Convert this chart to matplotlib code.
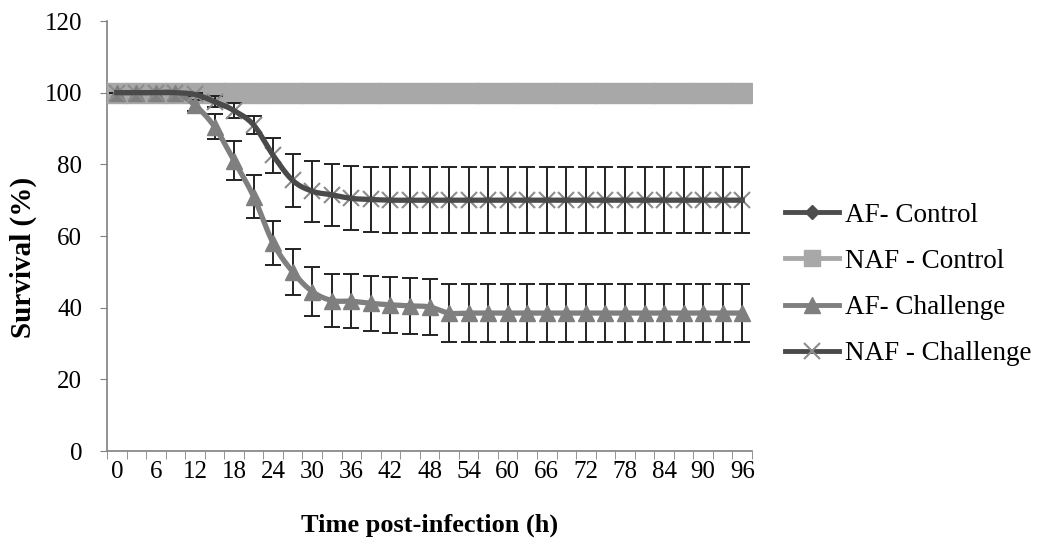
import numpy as np
import matplotlib
matplotlib.use('Agg')
import matplotlib.pyplot as plt

# time points (h), every 3 h
hours = list(range(0, 97, 3))
tick_hours = list(range(0, 97, 6))

# survival (%)
af_control = [100] * 33
naf_control = [100] * 33
af_challenge = [100, 100, 100, 100, 96.5, 90.5, 81, 71, 58, 50, 44.5, 42,
                41.8, 41.2, 40.8, 40.5, 40.2] + [38.5] * 16
af_challenge_err = [0, 0, 0, 0, 1.5, 3.5, 5.5, 6, 6.2, 6.5, 6.8, 7.3,
                    7.6, 7.7, 7.8, 7.9, 7.9] + [8] * 16
naf_challenge = [100, 100, 100, 100, 99.5, 97.5, 95, 91, 82.5, 75.5, 72.5,
                 71.5, 70.5, 70.2] + [70] * 19
naf_challenge_err = [0, 0, 0, 0, 0.5, 1.5, 2, 2.6, 4.8, 7.3, 8.5, 8.7,
                     8.9, 9.1] + [9.2] * 19

plt.rcParams['font.family'] = ['Liberation Serif', 'DejaVu Serif']


def smooth(x, y, n=12):
    # Bezier smoothing like Excel's "smoothed line"
    x = np.asarray(x, float)
    y = np.asarray(y, float)
    px = np.concatenate([[x[0]], x, [x[-1]]])
    py = np.concatenate([[y[0]], y, [y[-1]]])
    xs, ys = [], []
    for i in range(1, len(px) - 2):
        p0, p1, p2, p3 = py[i - 1], py[i], py[i + 1], py[i + 2]
        q0, q1, q2, q3 = px[i - 1], px[i], px[i + 1], px[i + 2]
        c1y, c2y = p1 + (p2 - p0) / 6, p2 - (p3 - p1) / 6
        c1x, c2x = q1 + (q2 - q0) / 6, q2 - (q3 - q1) / 6
        t = np.linspace(0, 1, n, endpoint=False)
        b = [(1 - t) ** 3, 3 * (1 - t) ** 2 * t, 3 * (1 - t) * t ** 2, t ** 3]
        xs.append(b[0] * q1 + b[1] * c1x + b[2] * c2x + b[3] * q2)
        ys.append(b[0] * p1 + b[1] * c1y + b[2] * c2y + b[3] * p2)
    xs.append([x[-1]])
    ys.append([y[-1]])
    return np.concatenate(xs), np.concatenate(ys)


fig = plt.figure(figsize=(10.41, 5.43), dpi=100)
ax = fig.add_axes([0.1028, 0.1694, 0.6196, 0.7919])

c_afc = '#4d4d4d'
c_nafc = '#a8a8a8'
c_afch = '#7f7f7f'
c_nafch = '#4a4a4a'

# AF - Control
sx, sy = smooth(hours, af_control)
ax.plot(sx, sy, color=c_afc, lw=3.5, zorder=2)
ax.plot(hours, af_control, ls='none', marker='D', ms=7, color=c_afc, zorder=2)

# NAF - Control
sx, sy = smooth(hours, naf_control)
ax.plot(sx, sy, color=c_nafc, lw=4, zorder=3)
ax.plot(hours, naf_control, ls='none', marker='s', ms=14.5, color=c_nafc, zorder=3)

# AF - Challenge
ax.errorbar(hours, af_challenge, yerr=af_challenge_err, fmt='none',
            ecolor='#222222', elinewidth=1.4, capsize=6, capthick=1.4, zorder=4)
sx, sy = smooth(hours, af_challenge)
ax.plot(sx, sy, color=c_afch, lw=3.8, zorder=5)
ax.plot(hours, af_challenge, ls='none', marker='^', ms=11, color=c_afch, zorder=5)

# NAF - Challenge
ax.errorbar(hours, naf_challenge, yerr=naf_challenge_err, fmt='none',
            ecolor='#222222', elinewidth=1.4, capsize=6, capthick=1.4, zorder=4)
ax.plot(hours, naf_challenge, ls='none', marker='x', ms=11, mew=1.5,
        color='#8c8c8c', zorder=6)
sx, sy = smooth(hours, naf_challenge)
ax.plot(sx, sy, color=c_nafch, lw=3.8, zorder=7)

ax.set_xlim(-1.5, 97.5)
ax.set_ylim(0, 120)
ax.set_yticks(range(0, 121, 20))
ax.set_xticks(tick_hours)
ax.set_xticks(np.arange(-1.5, 98, 3), minor=True)
ax.tick_params(axis='x', which='major', length=0, pad=7, labelsize=18)
ax.tick_params(axis='x', which='minor', length=6, color='#808080', direction='out')
ax.tick_params(axis='y', length=5, color='#808080', labelsize=18, pad=13)
for s in ['top', 'right']:
    ax.spines[s].set_visible(False)
for s in ['left', 'bottom']:
    ax.spines[s].set_color('#808080')
    ax.spines[s].set_linewidth(1.2)

ax.set_xlabel('Time post-infection (h)', fontsize=19, fontweight='bold', labelpad=22)
ax.set_ylabel('Survival (%)', fontsize=21, fontweight='bold')
ax.yaxis.set_label_coords(-0.108, 0.45)

handles = [
    plt.Line2D([], [], color=c_afc, lw=3.5, marker='D', ms=7),
    plt.Line2D([], [], color=c_nafc, lw=3.5, marker='s', ms=12),
    plt.Line2D([], [], color=c_afch, lw=3.5, marker='^', ms=11),
    plt.Line2D([], [], color=c_nafch, lw=3.5, marker='x', ms=11, mew=1.5,
               markeredgecolor='#8c8c8c'),
]
labels = ['AF- Control', 'NAF - Control', 'AF- Challenge', 'NAF - Challenge']
fig.legend(handles, labels, loc='center left', bbox_to_anchor=(0.736, 0.476),
           frameon=False, fontsize=19.5, handlelength=2.0, handletextpad=0.2,
           labelspacing=0.78, borderpad=0.2)

fig.savefig('out.png', dpi=100)
